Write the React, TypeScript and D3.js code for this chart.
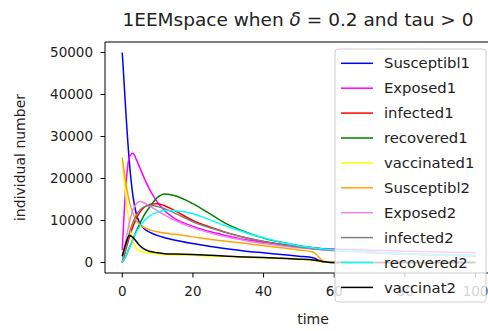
import React from 'react';
import * as d3 from 'd3';

const times = [0, 1, 2, 3, 4, 5, 6, 8, 10, 12, 15, 20, 25, 30, 35, 40, 45, 50, 54, 57, 60, 70, 80, 90, 100];

const susceptible1 = [50000, 36000, 24000, 16000, 11500, 9300, 8200, 7100, 6400, 5900, 5300, 4500, 3800, 3200, 2700, 2300, 1900, 1500, 1150, 100, 0, 0, 0, 0, 0];
const exposed1 = [3000, 18000, 25000, 26000, 24500, 22500, 20500, 17000, 14300, 12300, 10400, 8600, 7300, 6300, 5400, 4800, 4300, 3800, 3500, 3300, 3200, 2900, 2700, 2500, 2300];
const infected1 = [0, 3000, 6000, 8500, 10500, 12000, 13000, 13900, 14000, 13500, 12300, 10000, 8400, 7000, 5900, 5000, 4300, 3700, 3300, 3100, 2900, 2400, 2000, 1800, 1600];
const recovered1 = [0, 1500, 3500, 5500, 7500, 9300, 11000, 13500, 15500, 16300, 15900, 14000, 11500, 9000, 7200, 5800, 4800, 4000, 3500, 3200, 3000, 2500, 2100, 1800, 1600];
const vaccinated1 = [24500, 16000, 9000, 5000, 3400, 2800, 2500, 2200, 2000, 1900, 1800, 1700, 1500, 1400, 1200, 1100, 900, 700, 500, 100, 0, 0, 0, 0, 0];
const susceptible2 = [25000, 19000, 14500, 11800, 10000, 9000, 8400, 7700, 7300, 7000, 6700, 6100, 5500, 5000, 4500, 4000, 3500, 3000, 2500, 300, 0, 0, 0, 0, 0];
const exposed2 = [0, 5000, 9500, 12500, 14000, 14500, 14300, 13300, 12300, 11300, 10000, 8300, 7000, 6000, 5200, 4500, 4000, 3500, 3200, 3000, 2800, 2400, 2100, 1900, 1700];
const infected2 = [0, 3500, 7000, 9500, 11300, 12500, 13200, 13600, 13300, 12800, 11700, 9700, 8200, 7000, 5900, 5000, 4300, 3700, 3300, 3100, 2900, 2400, 2000, 1800, 1600];
const recovered2 = [0, 1500, 3500, 5500, 7200, 8600, 9700, 11200, 12000, 12400, 12300, 11600, 10100, 8500, 7100, 5900, 4800, 4000, 3500, 3200, 3000, 2500, 2100, 1900, 1700];
const vaccinated2 = [1500, 4500, 6400, 6000, 5000, 4000, 3300, 2600, 2300, 2100, 2000, 1900, 1700, 1500, 1300, 1200, 1000, 800, 600, 200, 0, 0, 0, 0, 0];

const seriesNames = ['Susceptibl1', 'Exposed1', 'infected1', 'recovered1', 'vaccinated1', 'Susceptibl2', 'Exposed2', 'infected2', 'recovered2', 'vaccinat2'];
const seriesColors = ['blue', 'magenta', 'red', 'green', 'yellow', 'orange', 'violet', 'grey', 'cyan', 'black'];
const seriesValues = [susceptible1, exposed1, infected1, recovered1, vaccinated1, susceptible2, exposed2, infected2, recovered2, vaccinated2];

const xTicks = [0, 20, 40, 60, 80, 100];
const yTicks = [0, 10000, 20000, 30000, 40000, 50000];

const font = 'DejaVu Sans, sans-serif';

export default function App() {
  const width = 488;
  const height = 331;
  const left = 105;
  const top = 42;
  const bottom = 273;

  const x = d3.scaleLinear().domain([-5, 105]).range([104.6, 493.2]);
  const y = d3.scaleLinear().domain([-2500, 52500]).range([bottom, top]);

  const line = d3
    .line<number>()
    .x((_, i) => x(times[i]))
    .y(d => y(d))
    .curve(d3.curveMonotoneX);

  const legendX = 335;
  const legendY = 49;
  const rowH = 24.9;

  return (
    <svg width={width} height={height} style={{ position: 'absolute', left: 0, top: 0 }}>
      <defs>
        <clipPath id="plotClip">
          <rect x={left} y={top} width={width - left} height={bottom - top} />
        </clipPath>
      </defs>
      <rect x={0} y={0} width={width} height={height} fill="white" />

      <g clipPath="url(#plotClip)">
        {seriesValues.map((vals, k) => (
          <path key={k} d={line(vals) || ''} fill="none" stroke={seriesColors[k]} strokeWidth={1.5} />
        ))}
      </g>

      {/* spines */}
      <line x1={left} x2={left} y1={top} y2={bottom} stroke="black" strokeWidth={1} />
      <line x1={left} x2={width} y1={bottom} y2={bottom} stroke="black" strokeWidth={1} />
      <line x1={left} x2={width} y1={top} y2={top} stroke="black" strokeWidth={1} />

      {/* x ticks */}
      {xTicks.map(t => (
        <g key={t} transform={`translate(${x(t)},${bottom})`}>
          <line y1={0} y2={4.5} stroke="black" strokeWidth={1} />
          <text y={23} textAnchor="middle" fontSize={13.5} fontFamily={font} fill="#222">
            {t}
          </text>
        </g>
      ))}

      {/* y ticks */}
      {yTicks.map(t => (
        <g key={t} transform={`translate(${left},${y(t)})`}>
          <line x1={-4.5} x2={0} stroke="black" strokeWidth={1} />
          <text x={-12} dy="0.35em" textAnchor="end" fontSize={13.5} fontFamily={font} fill="#222">
            {t}
          </text>
        </g>
      ))}

      <text x={298} y={26} textAnchor="middle" fontSize={18.5} fontFamily={font} fill="#222">
        1EEMspace when <tspan fontStyle="italic">δ</tspan> = 0.2 and tau &gt; 0
      </text>
      <text x={313} y={324} textAnchor="middle" fontSize={14} fontFamily={font} fill="#222">
        time
      </text>
      <text
        transform={`translate(25,${(top + bottom) / 2}) rotate(-90)`}
        textAnchor="middle"
        fontSize={14}
        fontFamily={font}
        fill="#222"
      >
        individual number
      </text>

      {/* legend */}
      <rect
        x={legendX}
        y={legendY}
        width={151}
        height={253}
        rx={3}
        fill="white"
        fillOpacity={0.8}
        stroke="#cccccc"
        strokeWidth={1}
      />
      {seriesNames.map((name, k) => {
        const cy = legendY + 14.3 + k * rowH;
        return (
          <g key={name}>
            <line x1={341} x2={373} y1={cy} y2={cy} stroke={seriesColors[k]} strokeWidth={1.5} />
            <text x={384} y={cy} dy="0.35em" fontSize={14.8} fontFamily={font} fill="#222">
              {name}
            </text>
          </g>
        );
      })}
    </svg>
  );
}
